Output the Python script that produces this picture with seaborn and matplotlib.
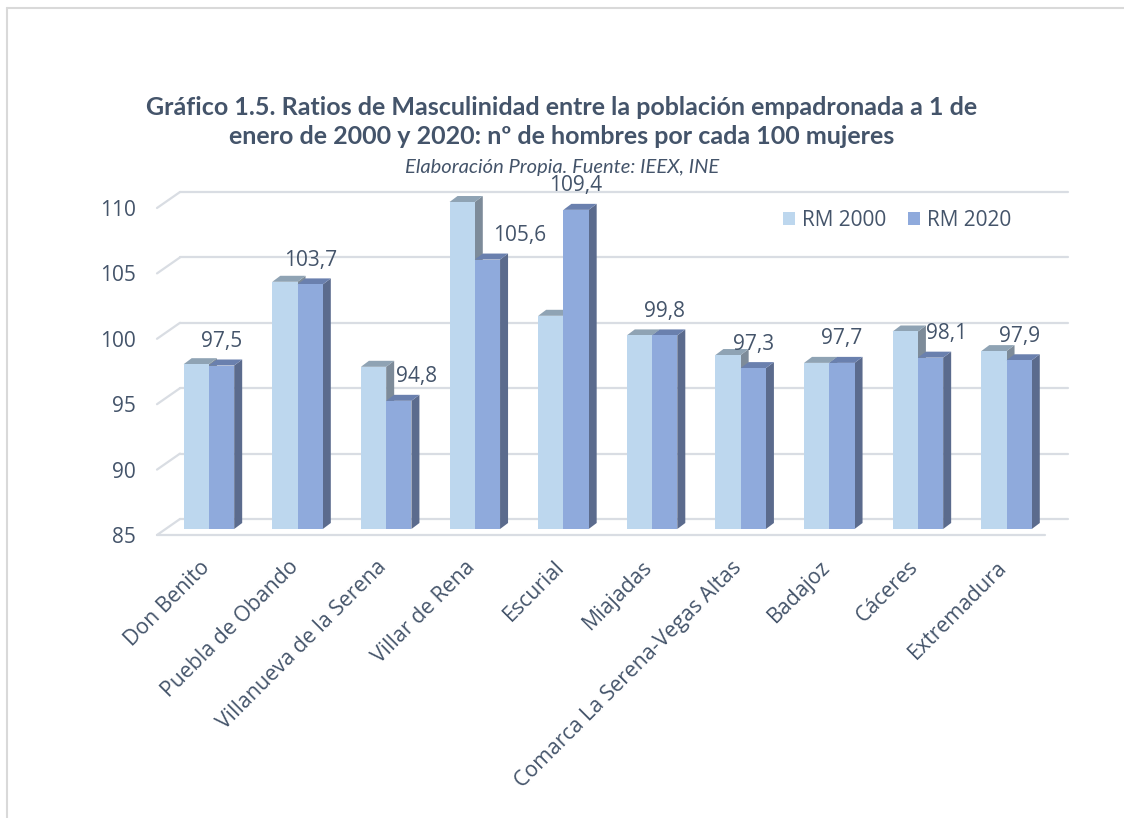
import matplotlib
matplotlib.use("Agg")
import matplotlib.pyplot as plt
import matplotlib.transforms as mtransforms
from matplotlib.patches import Polygon, Patch
from matplotlib.lines import Line2D
import pandas as pd
import seaborn as sns

# Datos
municipios = ["Don Benito", "Puebla de Obando", "Villanueva de la Serena",
              "Villar de Rena", "Escurial", "Miajadas",
              "Comarca La Serena-Vegas Altas", "Badajoz", "Cáceres",
              "Extremadura"]
rm_2000 = [97.6, 103.9, 97.4, 110.0, 101.3, 99.8, 98.3, 97.7, 100.1, 98.6]
rm_2020 = [97.5, 103.7, 94.8, 105.6, 109.4, 99.8, 97.3, 97.7, 98.1, 97.9]
series = ["RM 2000", "RM 2020"]
y_ticks = [85, 90, 95, 100, 105, 110]

# Desplazamiento horizontal de algunas etiquetas (px), como en el original
label_nudge = {"Villanueva de la Serena": 18, "Villar de Rena": 32, "Cáceres": 16}

TXT = "#44546A"
GRID = "#D9DDE3"
FRONT = {"RM 2000": "#BDD7EE", "RM 2020": "#8FAADC"}
SIDE = {"RM 2000": "#7D8B99", "RM 2020": "#5B6B8D"}
TOP = {"RM 2000": "#8FA3B4", "RM 2020": "#6A80AE"}

df = pd.DataFrame({
    "municipio": municipios * 2,
    "serie": ["RM 2000"] * len(municipios) + ["RM 2020"] * len(municipios),
    "valor": rm_2000 + rm_2020,
})

sns.set_theme(style="white")
plt.rcParams["font.family"] = ["Open Sans", "DejaVu Sans"]

DPI = 100
fig = plt.figure(figsize=(11.24, 8.18), dpi=DPI)
ax_w_px, ax_h_px = 1045 - 157, 535 - 208
ax = fig.add_axes([157 / 1124, 1 - 535 / 818, ax_w_px / 1124, ax_h_px / 818])

sns.barplot(data=df, x="municipio", y="valor", hue="serie", hue_order=series,
            palette=[FRONT[s] for s in series], saturation=1, width=0.57,
            linewidth=0, ax=ax, legend=False, zorder=3)

xlim = (-0.49, 9.53)
ylim = (85, 110)
ax.set_xlim(*xlim)
ax.set_ylim(*ylim)
sx = (xlim[1] - xlim[0]) / ax_w_px   # unidades de datos por píxel
sy = (ylim[1] - ylim[0]) / ax_h_px

# desplazamiento de las barras (profundidad) y de la pared del fondo
bar_shift = mtransforms.ScaledTranslation(8.5 / DPI, 6 / DPI, fig.dpi_scale_trans)
bar_trans = ax.transData + bar_shift
dep_x, dep_y = 8 * sx, 6 * sy          # profundidad de cada barra
wall_x, wall_y = 23 * sx, 16 * sy      # profundidad de la pared

# rejilla "3D"
for v in y_ticks:
    ax.add_line(Line2D([xlim[0] + wall_x, xlim[1] + wall_x], [v + wall_y, v + wall_y],
                       color=GRID, lw=1.6, clip_on=False, zorder=0))
    ax.add_line(Line2D([xlim[0], xlim[0] + wall_x], [v, v + wall_y],
                       color=GRID, lw=1.6, clip_on=False, zorder=0))
ax.add_line(Line2D([xlim[0], xlim[1]], [ylim[0], ylim[0]],
                   color=GRID, lw=1.6, clip_on=False, zorder=0))

# caras laterales y superiores de cada barra
for k, (serie, cont) in enumerate(zip(series, ax.containers)):
    z = 3 + 2 * k
    for bar in cont:
        top = bar.get_height()
        bar.set_y(ylim[0])
        bar.set_height(top - ylim[0])
        bar.set_transform(bar_trans)
        bar.set_clip_on(False)
        bar.set_zorder(z + 1)
        x0 = bar.get_x()
        x1 = x0 + bar.get_width()
        side = Polygon([(x1, ylim[0]), (x1 + dep_x, ylim[0] + dep_y),
                        (x1 + dep_x, top + dep_y), (x1, top)],
                       closed=True, facecolor=SIDE[serie], edgecolor="none",
                       transform=bar_trans, clip_on=False, zorder=z)
        cap = Polygon([(x0, top), (x1, top), (x1 + dep_x, top + dep_y),
                       (x0 + dep_x, top + dep_y)],
                      closed=True, facecolor=TOP[serie], edgecolor="none",
                      transform=bar_trans, clip_on=False, zorder=z)
        ax.add_patch(side)
        ax.add_patch(cap)

# etiquetas de datos (solo RM 2020)
for name, bar in zip(municipios, ax.containers[1]):
    val = bar.get_y() + bar.get_height()
    xc = bar.get_x() + bar.get_width() / 2
    ax.annotate(f"{val:.1f}".replace(".", ","), xy=(xc, val), xycoords=bar_trans,
                xytext=(label_nudge.get(name, 0), 24), textcoords="offset pixels",
                ha="center", va="center", fontsize=15, color=TXT, zorder=10)

# ejes
for s in ax.spines.values():
    s.set_visible(False)
ax.set_xlabel("")
ax.set_ylabel("")
ax.set_yticks(y_ticks)
ax.tick_params(axis="y", length=0, pad=15, labelsize=15, labelcolor=TXT)
ax.tick_params(axis="x", length=0, pad=21, labelsize=15.3, labelcolor=TXT)
lab_shift = mtransforms.ScaledTranslation(6 / DPI, 0, fig.dpi_scale_trans)
for t in ax.get_xticklabels():
    t.set_rotation(45)
    t.set_ha("right")
    t.set_va("center")
    t.set_rotation_mode("anchor")
    t.set_transform(t.get_transform() + lab_shift)

# leyenda
handles = [Patch(facecolor=FRONT[s], edgecolor="none", label=s) for s in series]
fig.legend(handles=handles, loc="center right",
           bbox_to_anchor=(1022 / 1124, 1 - 220 / 818), ncol=2, frameon=False,
           fontsize=15, labelcolor=TXT, handlelength=0.6, handleheight=0.6,
           handletextpad=0.35, columnspacing=1.0, borderpad=0)

# títulos
fig.text(0.5, 1 - 122 / 818,
         "Gráfico 1.5. Ratios de Masculinidad entre la población empadronada a 1 de\n"
         "enero de 2000 y 2020: nº de hombres por cada 100 mujeres",
         ha="center", va="center", fontsize=18, fontweight="bold", color=TXT,
         family=["Lato", "DejaVu Sans"], linespacing=1.3)
fig.text(0.5, 1 - 168 / 818, "Elaboración Propia. Fuente: IEEX, INE",
         ha="center", va="center", fontsize=14.5, style="italic", color=TXT,
         family=["Lato", "DejaVu Sans"])

# marco del gráfico
fig.add_artist(Line2D([7 / 1124, 7 / 1124], [0, 1 - 8 / 818], color="#D9D9D9",
                      lw=1.5, transform=fig.transFigure))
fig.add_artist(Line2D([7 / 1124, 1], [1 - 8 / 818, 1 - 8 / 818], color="#D9D9D9",
                      lw=1.5, transform=fig.transFigure))

fig.savefig("out.png", dpi=DPI, facecolor="white")
